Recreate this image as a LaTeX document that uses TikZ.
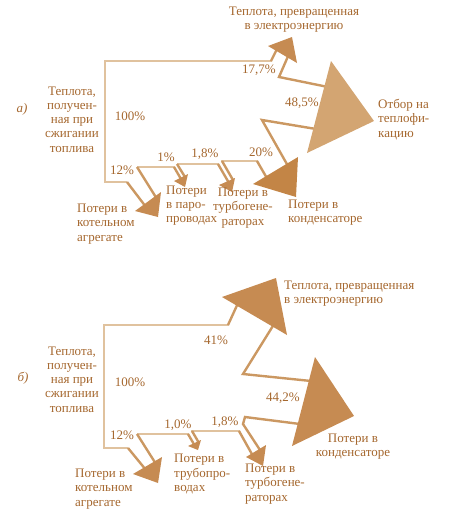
\documentclass[tikz,border=0pt]{standalone}
\usepackage{fontspec}
\setmainfont{Liberation Serif}
\definecolor{lightl}{HTML}{E0C29E}
\definecolor{darkl}{HTML}{CB9862}
\definecolor{arrf}{HTML}{C68B52}
\definecolor{bigf}{HTML}{D3A572}
\definecolor{kondf}{HTML}{C38546}
\definecolor{txt}{HTML}{A5672E}
\tikzset{
  lightline/.style={draw=lightl,line width=2.8pt,line join=miter},
  darkline/.style={draw=darkl,line width=2.4pt,line join=miter},
  head/.style={fill=arrf},
  lbl/.style={text=txt,inner sep=0pt,font=\fontsize{13}{14.2}\selectfont},
}
\begin{document}
\begin{tikzpicture}[x=1pt,y=-1pt]
\useasboundingbox (0,0) rectangle (459,523);
% ================= a) =================
\draw[lightline] (127,182) -- (105,182) -- (105,61) -- (272,61);
\draw[lightline] (137,167) -- (175,167);
\draw[lightline] (177,164) -- (219,164);
\draw[lightline] (221,161) -- (258,161);
% 12%
\draw[darkline] (127,182) -- (146,207);
\draw[darkline] (137,167) -- (157,199);
\fill[head] (135,211) -- (161,192) -- (158,217) -- cycle;
% 1%
\draw[darkline] (174,167) -- (181,179);
\draw[darkline] (177,164) -- (185,177);
\fill[head] (174,181) -- (188,174) -- (185,187) -- cycle;
% 1.8%
\draw[darkline] (218,164) -- (229,183);
\draw[darkline] (222,161) -- (233,180);
\fill[head] (219,185) -- (235,178) -- (232,192) -- cycle;
% 20%
\draw[darkline] (257,161) -- (268,180);
\draw[darkline] (316,129) -- (262,120) -- (288,166);
\fill[kondf] (253,184) -- (298,157) -- (296,197) -- cycle;
% 48.5%
\draw[darkline] (328,87) -- (279,77) -- (289,54);
\fill[bigf] (331,61) -- (374,121) -- (307,153) -- cycle;
% 17.7%
\draw[darkline] (271,61) -- (277,49);
\fill[head] (268,46) -- (292,37) -- (297,63) -- cycle;
% texts a
\node[lbl,align=center] (atop) at (294,20) {Теплота, превращенная\\в электроэнергию};
\node[lbl] (alab) at (22,109) {\itshape а)};
\node[lbl,align=center] (asrc) at (72,119.5) {Теплота,\\получен-\\ная при\\сжигании\\топлива};
\node[lbl] (a100) at (130,116) {100\%};
\node[lbl] (a12) at (122,170) {12\%};
\node[lbl] (a1) at (166,157) {1\%};
\node[lbl] (a18) at (205,154) {1,8\%};
\node[lbl] (a20) at (261,152) {20\%};
\node[lbl] (a177) at (259,70) {17,7\%};
\node[lbl] (a485) at (302,103) {48,5\%};
\node[lbl,align=left,anchor=west] (aotb) at (378,119.5) {Отбор на\\теплофи-\\кацию};
\node[lbl,align=left,anchor=west] (akond) at (288,212.5) {Потери в\\конденсаторе};
\node[lbl,align=center] (aturb) at (243,208) {Потери в\\турбогене-\\раторах};
\node[lbl,align=left,anchor=west] (apar) at (166,205.5) {Потери\\в паро-\\проводах};
\node[lbl,align=left,anchor=west] (akot) at (77,224) {Потери в\\котельном\\агрегате};
% ================= b) =================
\draw[lightline] (128,448) -- (104,448) -- (104,325) -- (229,325);
\draw[lightline] (137,434) -- (189,434);
\draw[lightline] (191,431) -- (240,431);
% 12%
\draw[darkline] (128,448) -- (146,470);
\draw[darkline] (137,434) -- (156,464);
\fill[head] (133,474) -- (162,457) -- (158,483) -- cycle;
% 1.0%
\draw[darkline] (188,434) -- (195,446);
\draw[darkline] (192,431) -- (199,443);
\fill[head] (188,446) -- (201,440) -- (198,450) -- cycle;
% 1.8%
\draw[darkline] (239,431) -- (253,456);
\draw[darkline] (300,424) -- (245,417) -- (243,424) -- (260,450);
\fill[head] (246,457) -- (266,445) -- (263,466) -- cycle;
% 44.2%
\draw[darkline] (311,381) -- (243,374) -- (276,321);
\fill[arrf] (315,357) -- (354,416) -- (292,446) -- cycle;
% 41%
\draw[darkline] (228,325) -- (239,301);
\fill[head] (222,297) -- (276,278) -- (287,335) -- cycle;
% texts b
\node[lbl] (blab) at (23,378) {\itshape б)};
\node[lbl,align=center] (bsrc) at (72,379.5) {Теплота,\\получен-\\ная при\\сжигании\\топлива};
\node[lbl] (b100) at (130,382) {100\%};
\node[lbl] (b12) at (122,435) {12\%};
\node[lbl] (b10) at (178,425) {1,0\%};
\node[lbl] (b18) at (225,422) {1,8\%};
\node[lbl] (b41) at (216,340) {41\%};
\node[lbl] (b442) at (283,398) {44,2\%};
\node[lbl,align=left,anchor=west] (btop) at (284,294) {Теплота, превращенная\\в электроэнергию};
\node[lbl,align=center] (bkond) at (353,446.5) {Потери в\\конденсаторе};
\node[lbl,align=left,anchor=west] (btrub) at (174,474) {Потери в\\трубопро-\\водах};
\node[lbl,align=left,anchor=west] (bkot) at (75,489) {Потери в\\котельном\\агрегате};
\node[lbl,align=left,anchor=west] (bturb) at (245,484) {Потери в\\турбогене-\\раторах};
\end{tikzpicture}
\end{document}
